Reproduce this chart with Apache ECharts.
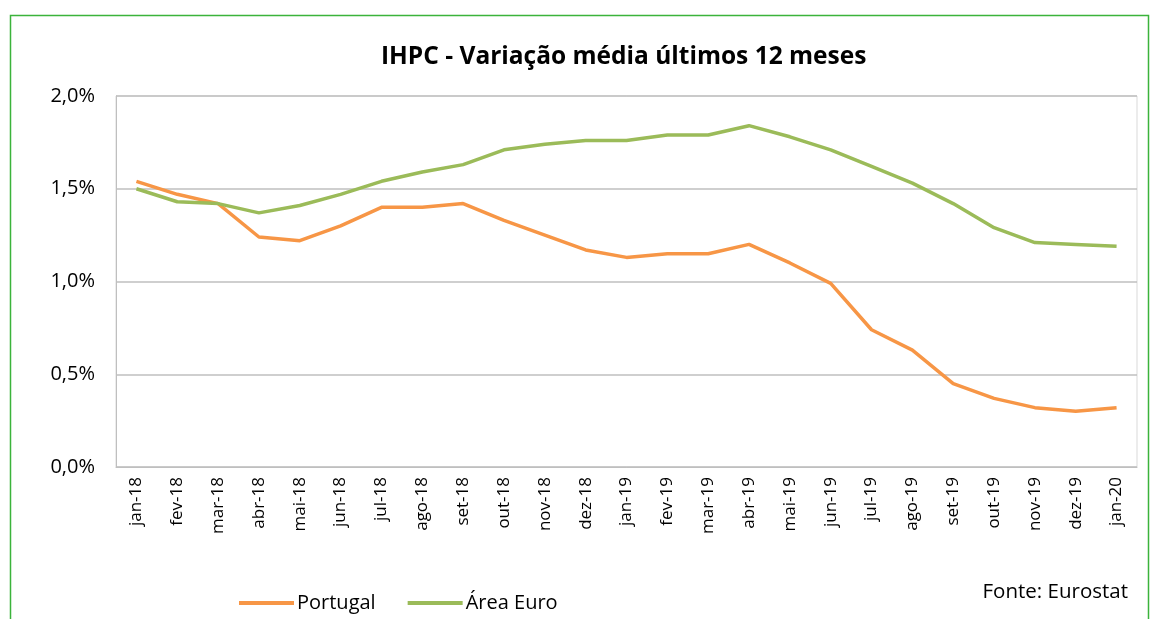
<!DOCTYPE html>
<html>
<head>
<meta charset="utf-8">
<script src="https://cdn.jsdelivr.net/npm/echarts@6/dist/echarts.min.js"></script>
<style>html,body{margin:0;padding:0;background:#fff;}#c{width:1154px;height:619px;}</style>
</head>
<body>
<div id="c"></div>
<script>
const categories = ['jan-18','fev-18','mar-18','abr-18','mai-18','jun-18','jul-18','ago-18','set-18','out-18','nov-18','dez-18','jan-19','fev-19','mar-19','abr-19','mai-19','jun-19','jul-19','ago-19','set-19','out-19','nov-19','dez-19','jan-20'];
const portugal = [1.54,1.47,1.42,1.24,1.22,1.30,1.40,1.40,1.42,1.33,1.25,1.17,1.13,1.15,1.15,1.20,1.10,0.99,0.74,0.63,0.45,0.37,0.32,0.30,0.32];
const areaEuro = [1.50,1.43,1.42,1.37,1.41,1.47,1.54,1.59,1.63,1.71,1.74,1.76,1.76,1.79,1.79,1.84,1.78,1.71,1.62,1.53,1.42,1.29,1.21,1.20,1.19];
const yTicks = [0, 0.5, 1.0, 1.5, 2.0];

const font = '"Open Sans", "Noto Sans", sans-serif';
const chart = echarts.init(document.getElementById('c'));
chart.setOption({
  animation: false,
  textStyle: { fontFamily: font, color: '#000' },
  graphic: [{
    type: 'rect', left: 8, top: 13,
    shape: { width: 1138, height: 640 },
    style: { fill: 'none', stroke: '#3bb33b', lineWidth: 1.5 },
    silent: true
  }, {
    type: 'text', right: 26, top: 582,
    style: { text: 'Fonte: Eurostat', font: '20.5px ' + font, fill: '#000' }
  }],
  title: {
    text: 'IHPC - Variação média últimos 12 meses',
    left: 376, top: 40,
    textStyle: { fontFamily: font, fontSize: 24.5, fontWeight: 'bold', color: '#000' }
  },
  legend: {
    left: 234, top: 588,
    itemWidth: 55, itemHeight: 4, itemGap: 32,
    icon: 'rect',
    textStyle: { fontFamily: font, fontSize: 20, color: '#000', padding: [0, 0, 0, -2] },
    data: ['Portugal', 'Área Euro']
  },
  grid: {
    left: 116, top: 96, width: 1021, height: 371,
    show: true, borderColor: '#d9d9d9', borderWidth: 1
  },
  xAxis: {
    type: 'category', data: categories, boundaryGap: true,
    axisLine: { lineStyle: { color: '#bfbfbf', width: 1 } },
    axisTick: { show: false },
    axisLabel: { rotate: 90, fontSize: 17, color: '#000', margin: 10, fontFamily: font, interval: 0 }
  },
  yAxis: {
    type: 'value', min: 0, max: 2.0, interval: 0.5,
    axisLine: { show: true, lineStyle: { color: '#bfbfbf' } },
    axisTick: { show: false },
    splitLine: { lineStyle: { color: '#bfbfbf', width: 1.5 } },
    axisLabel: {
      fontSize: 20, color: '#000', margin: 21, fontFamily: font,
      formatter: v => v.toFixed(1).replace('.', ',') + '%'
    }
  },
  series: [{
    name: 'Portugal', type: 'line', data: portugal,
    symbol: 'none', color: '#F79646',
    lineStyle: { width: 3.5, color: '#F79646' }
  }, {
    name: 'Área Euro', type: 'line', data: areaEuro,
    symbol: 'none', color: '#9BBB59',
    lineStyle: { width: 3.5, color: '#9BBB59' }
  }]
});
</script>
</body>
</html>
